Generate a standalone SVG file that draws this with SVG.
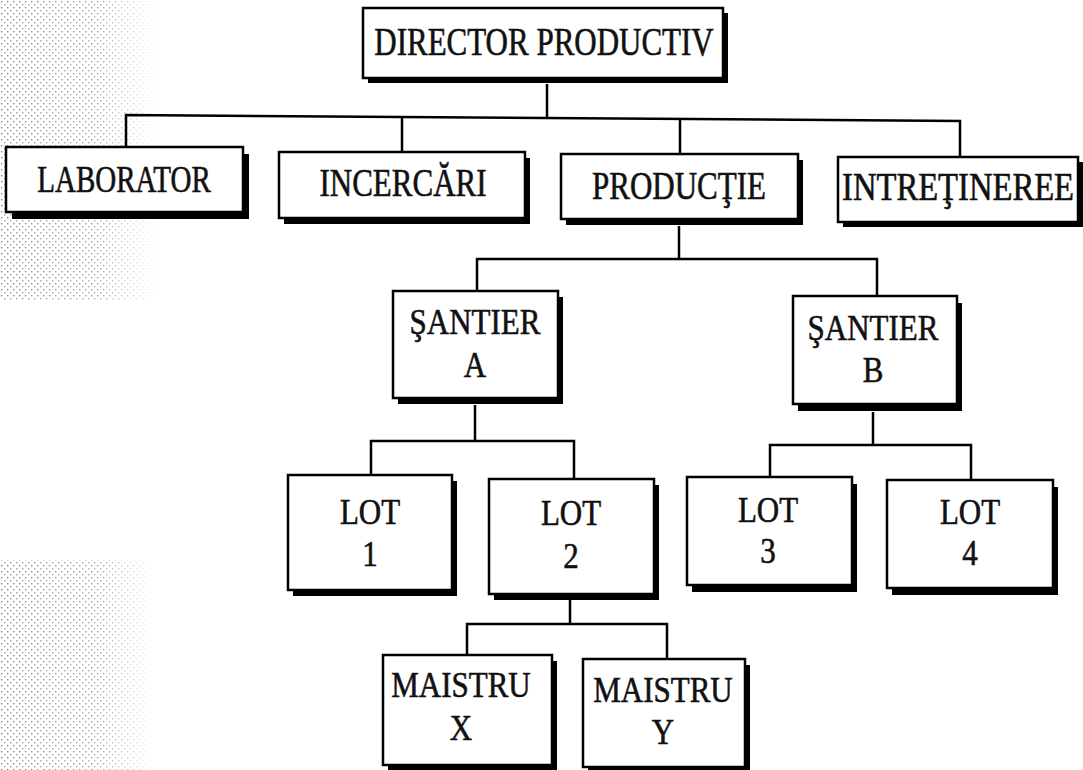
<svg xmlns="http://www.w3.org/2000/svg" width="1083" height="770" viewBox="0 0 1083 770">
<style>
.bx{fill:#fff;stroke:#000;stroke-width:2.5}
.sh{fill:#000}
.t{font-family:'Liberation Serif','Times New Roman',serif;font-size:31px;fill:#111;stroke:#111;stroke-width:0.5;text-anchor:middle}
.cn{fill:none;stroke:#000;stroke-width:2.5}
</style>
<defs>
<pattern id="dots" width="6" height="6" patternUnits="userSpaceOnUse">
<rect x="1" y="1" width="1.4" height="1.4" fill="#555"/>
<rect x="4" y="4" width="1.4" height="1.4" fill="#777"/>
</pattern>
<linearGradient id="fade" x1="0" y1="0" x2="1" y2="0">
<stop offset="0" stop-color="#fff" stop-opacity="1"/>
<stop offset="0.6" stop-color="#fff" stop-opacity="0.8"/>
<stop offset="1" stop-color="#fff" stop-opacity="0"/>
</linearGradient>
<mask id="m1"><rect x="0" y="0" width="160" height="770" fill="url(#fade)"/></mask>
</defs>
<rect width="1083" height="770" fill="#fff"/>
<g id="texture" mask="url(#m1)" opacity="0.7">
<rect x="0" y="0" width="155" height="300" fill="url(#dots)"/>
<rect x="0" y="560" width="150" height="210" fill="url(#dots)"/>
</g>
<g id="connectors" class="cn">
<path d="M547 84 V117"/>
<path d="M126 147 V115 L960 121 V157"/>
<path d="M402 116 V152"/>
<path d="M680 119 V154"/>
<path d="M679 226 V259"/>
<path d="M477 291 V259 H877 V296"/>
<path d="M475 405 V441"/>
<path d="M371 475 V441 H574 V479"/>
<path d="M873 412 V445"/>
<path d="M770 477 V445 H971 V480"/>
<path d="M570 598 V624"/>
<path d="M467 655 V624 H667 V659"/>
</g>
<g id="director">
<rect class="sh" x="368" y="13" width="360" height="70"/>
<rect class="bx" x="363" y="8" width="360" height="70"/>
<text class="t" transform="translate(544,55) scale(1,1.3)">DIRECTOR PRODUCTIV</text>
</g>
<g id="laborator">
<rect class="sh" x="12" y="154" width="237" height="65"/>
<rect class="bx" x="6" y="147" width="237" height="65"/>
<text class="t" style="font-size:29px" transform="translate(124,192) scale(1,1.3)">LABORATOR</text>
</g>
<g id="incercari">
<rect class="sh" x="284" y="158" width="246" height="66"/>
<rect class="bx" x="279" y="152" width="246" height="66"/>
<text class="t" transform="translate(403,196) scale(1,1.3)">INCERCĂRI</text>
</g>
<g id="productie">
<rect class="sh" x="566" y="160" width="237" height="65"/>
<rect class="bx" x="561" y="154" width="237" height="65"/>
<text class="t" transform="translate(679,199) scale(1,1.3)">PRODUCŢIE</text>
</g>
<g id="intretineree">
<rect class="sh" x="843" y="162" width="240" height="65"/>
<rect class="bx" x="838" y="157" width="240" height="65"/>
<text class="t" textLength="232" lengthAdjust="spacingAndGlyphs" transform="translate(958,200) scale(1,1.3)">INTREŢINEREE</text>
</g>
<g id="santierA">
<rect class="sh" x="398" y="297" width="165" height="107"/>
<rect class="bx" x="393" y="291" width="165" height="107"/>
<text class="t" transform="translate(475,334) scale(1,1.15)">ŞANTIER</text>
<text class="t" transform="translate(475,377) scale(1,1.15)">A</text>
</g>
<g id="santierB">
<rect class="sh" x="798" y="303" width="164" height="108"/>
<rect class="bx" x="793" y="296" width="164" height="108"/>
<text class="t" transform="translate(873,340) scale(1,1.15)">ŞANTIER</text>
<text class="t" transform="translate(873,382) scale(1,1.15)">B</text>
</g>
<g id="lot1">
<rect class="sh" x="293" y="481" width="164" height="115"/>
<rect class="bx" x="288" y="475" width="164" height="115"/>
<text class="t" transform="translate(370,524) scale(1,1.15)">LOT</text>
<text class="t" transform="translate(370,566) scale(1,1.15)">1</text>
</g>
<g id="lot2">
<rect class="sh" x="494" y="485" width="165" height="115"/>
<rect class="bx" x="489" y="479" width="165" height="115"/>
<text class="t" transform="translate(571,525) scale(1,1.15)">LOT</text>
<text class="t" transform="translate(571,568) scale(1,1.15)">2</text>
</g>
<g id="lot3">
<rect class="sh" x="692" y="484" width="165" height="108"/>
<rect class="bx" x="687" y="477" width="165" height="108"/>
<text class="t" transform="translate(768,522) scale(1,1.15)">LOT</text>
<text class="t" transform="translate(768,563) scale(1,1.15)">3</text>
</g>
<g id="lot4">
<rect class="sh" x="892" y="487" width="166" height="108"/>
<rect class="bx" x="887" y="480" width="166" height="108"/>
<text class="t" transform="translate(970,524) scale(1,1.15)">LOT</text>
<text class="t" transform="translate(970,565) scale(1,1.15)">4</text>
</g>
<g id="maistruX">
<rect class="sh" x="388" y="661" width="169" height="110"/>
<rect class="bx" x="383" y="655" width="169" height="110"/>
<text class="t" transform="translate(461,697) scale(1,1.15)">MAISTRU</text>
<text class="t" transform="translate(461,740) scale(1,1.15)">X</text>
</g>
<g id="maistruY">
<rect class="sh" x="588" y="665" width="162" height="108"/>
<rect class="bx" x="583" y="659" width="162" height="108"/>
<text class="t" transform="translate(663,702) scale(1,1.15)">MAISTRU</text>
<text class="t" transform="translate(663,744) scale(1,1.15)">Y</text>
</g>
</svg>
